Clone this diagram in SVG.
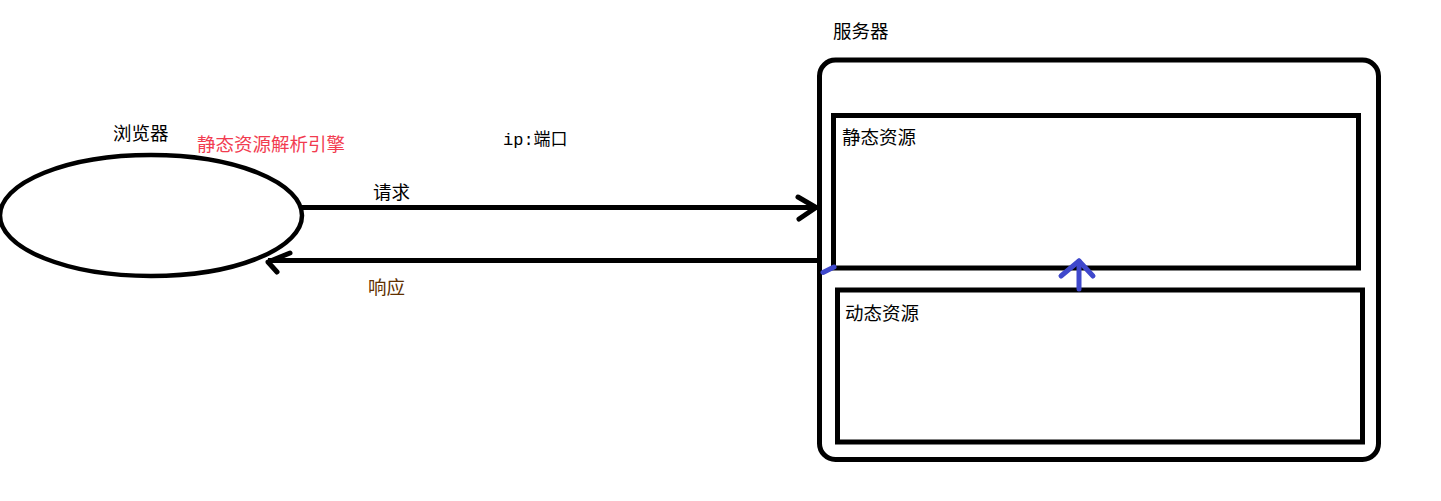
<svg xmlns="http://www.w3.org/2000/svg" width="1441" height="501" viewBox="0 0 1441 501">
<style>
.t{font-family:"Noto Sans CJK SC","Liberation Serif",sans-serif;font-size:18.5px;fill:#000}
.m{font-family:"Liberation Mono","Noto Sans CJK SC",monospace;font-size:17px;fill:#000}
.k{fill:none;stroke:#000;stroke-width:5;stroke-linecap:round;stroke-linejoin:round}
.b{fill:none;stroke:#3f48cc;stroke-width:5;stroke-linecap:round;stroke-linejoin:round}
</style>
<rect width="1441" height="501" fill="#fff"/>
<g id="browser">
<ellipse cx="151" cy="215.5" rx="151" ry="60.5" fill="none" stroke="#000" stroke-width="4.5"/>
<text class="t" x="113" y="140">浏览器</text>
<text class="t" x="197" y="151" style="fill:#f23c50">静态资源解析引擎</text>
</g>
<g id="server">
<rect x="819.5" y="60" width="559" height="399.5" rx="16" class="k"/>
<text class="t" x="833" y="38">服务器</text>
</g>
<g id="static">
<rect x="833.5" y="115.5" width="525" height="152.5" fill="none" stroke="#000" stroke-width="5"/>
<text class="t" x="842" y="144">静态资源</text>
</g>
<g id="dynamic">
<rect x="837.5" y="290" width="525" height="152" fill="none" stroke="#000" stroke-width="5"/>
<text class="t" x="845" y="320">动态资源</text>
</g>
<g id="connectors">
<line x1="302" y1="207.5" x2="817" y2="207.5" stroke="#000" stroke-width="5"/>
<polyline points="798,197 816,207.5 799,219" class="k"/>
<line x1="268" y1="260.5" x2="817" y2="260.5" stroke="#000" stroke-width="5"/>
<polyline points="290,253 268,262 277,272" class="k"/>
<text class="m" x="503" y="145">ip:端口</text>
<text class="t" x="373" y="199">请求</text>
<text class="t" x="368" y="294" style="fill:#603000">响应</text>
<line x1="823" y1="272.5" x2="834" y2="267" class="b"/>
<line x1="1079" y1="289" x2="1079" y2="261" class="b"/>
<polyline points="1061,276 1079,261 1093,276" class="b"/>
</g>
</svg>
